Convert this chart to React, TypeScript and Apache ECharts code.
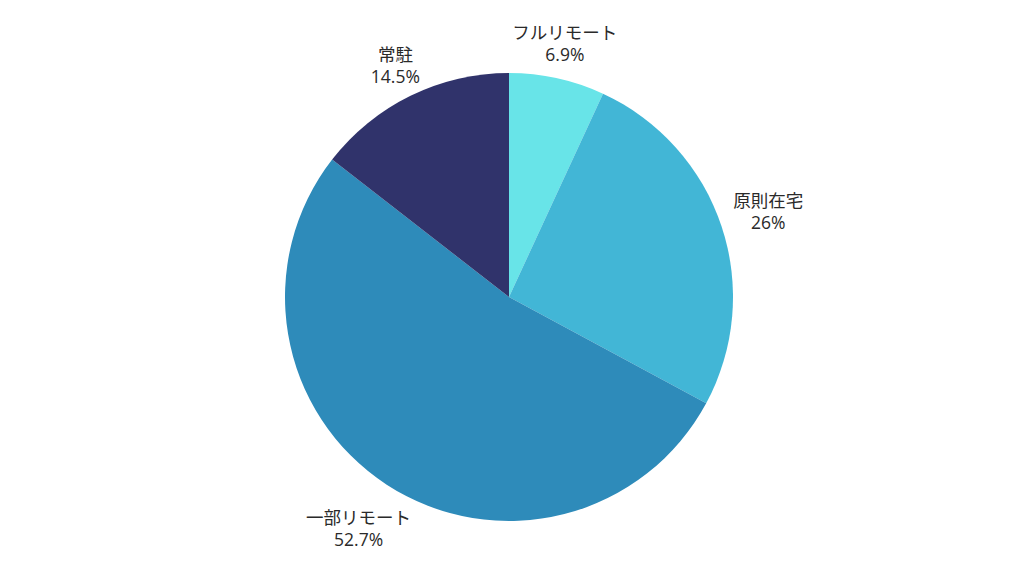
import { useEffect, useRef } from "react";
import * as echarts from "echarts";

// 勤務形態の割合 (%)
const categories = ["フルリモート", "原則在宅", "一部リモート", "常駐"];
const shares = [6.9, 26, 52.7, 14.5];
const colors = ["#68e4e8", "#42b6d6", "#2e8bba", "#30336b"];

const CX = 509;
const CY = 297;
const RADIUS = 224;
const LABEL_GAP = 12;

const total = shares.reduce((a, b) => a + b, 0);
const midAngles = shares.map((v, i) => {
  const before = shares.slice(0, i).reduce((a, b) => a + b, 0);
  return ((before + v / 2) / total) * Math.PI * 2;
});

function App() {
  const chartRef = useRef<HTMLDivElement>(null);

  useEffect(() => {
    document.body.style.margin = "0";
    if (!chartRef.current) return;
    const chart = echarts.init(chartRef.current, null, { renderer: "svg" });

    chart.setOption({
      animation: false,
      backgroundColor: "#ffffff",
      series: [
        {
          type: "pie",
          center: [CX, CY],
          radius: RADIUS,
          startAngle: 90,
          clockwise: true,
          color: colors,
          label: {
            show: true,
            position: "outside",
            formatter: (p: any) => `${p.name}\n${p.value}%`,
            fontFamily: "'Open Sans', 'Noto Sans CJK JP', sans-serif",
            fontSize: 17.5,
            lineHeight: 22,
            color: "#2a2a2a",
            align: "center",
          },
          labelLine: { show: false },
          labelLayout: (params: any) => {
            const a = midAngles[params.dataIndex];
            const dx = Math.sin(a);
            const dy = -Math.cos(a);
            const w = params.labelRect.width / 2;
            const h = params.labelRect.height / 2 - 9;
            const reach = Math.abs(dx) * w + Math.abs(dy) * h;
            const r = RADIUS + LABEL_GAP + reach;
            return {
              x: CX + dx * r,
              y: CY + dy * r,
              align: "center",
              verticalAlign: "middle",
            };
          },
          itemStyle: { borderWidth: 0 },
          emphasis: { disabled: true },
          data: categories.map((name, i) => ({ name, value: shares[i] })),
        },
      ],
    });

    return () => {
      chart.dispose();
    };
  }, []);

  return <div ref={chartRef} style={{ width: "1024px", height: "576px" }} />;
}

export default App;
